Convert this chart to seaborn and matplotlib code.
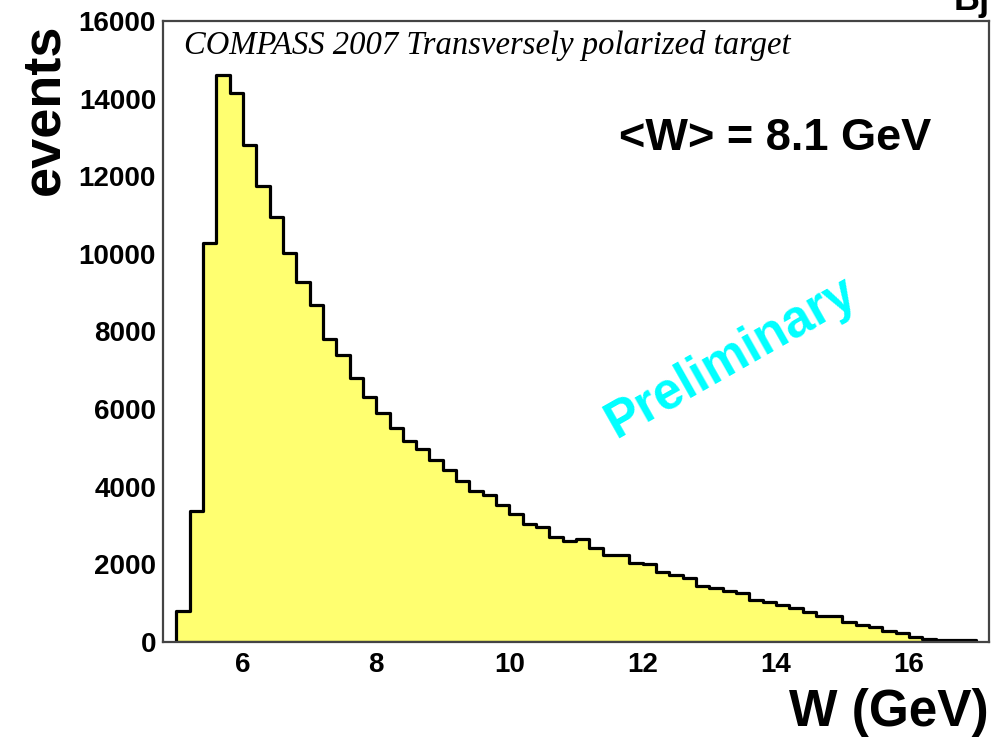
import numpy as np
import pandas as pd
import matplotlib
matplotlib.use("Agg")
import matplotlib.pyplot as plt
import seaborn as sns

# W distribution, 0.2 GeV bins from 5.0 to 17.0 GeV
bin_edges = [round(5.0 + 0.2 * i, 1) for i in range(61)]
counts = [807, 3380, 10280, 14600, 14150, 12810, 11750, 10960, 10020, 9270,
          8690, 7800, 7400, 6810, 6300, 5910, 5520, 5190, 4970, 4690,
          4420, 4160, 3900, 3780, 3540, 3300, 3050, 2960, 2715, 2610,
          2660, 2420, 2250, 2240, 2045, 2000, 1800, 1735, 1650, 1445,
          1400, 1315, 1255, 1080, 1040, 955, 870, 780, 680, 680,
          525, 440, 380, 290, 225, 140, 86, 60, 50, 40]
x_ticks = [6, 8, 10, 12, 14, 16]
y_ticks = [0, 2000, 4000, 6000, 8000, 10000, 12000, 14000, 16000]

centers = [(a + b) / 2 for a, b in zip(bin_edges[:-1], bin_edges[1:])]
df = pd.DataFrame({"W": centers, "events": counts})

sns.set_theme(style="white")
plt.rcParams["font.family"] = ["Liberation Sans", "DejaVu Sans"]
plt.rcParams["text.color"] = "black"
plt.rcParams["xtick.color"] = "#333333"
plt.rcParams["ytick.color"] = "#333333"

fig = plt.figure(figsize=(9.91, 7.39), dpi=100)
ax = fig.add_axes([0.1645, 0.1313, 0.8335, 0.8403])

sns.histplot(data=df, x="W", weights="events", bins=bin_edges,
             element="step", fill=True, facecolor="#ffff70", alpha=1.0,
             edgecolor="black", linewidth=2.3, ax=ax)

ax.set_xlim(4.8, 17.2)
ax.set_ylim(0, 16000)
ax.set_xticks(x_ticks)
ax.set_yticks(y_ticks)
ax.set_xticklabels([str(t) for t in x_ticks], fontsize=20, fontweight="bold")
ax.set_yticklabels([str(t) for t in y_ticks], fontsize=20, fontweight="bold")
ax.tick_params(direction="in", length=8, width=1.3, color="#333333",
               pad=5, labelcolor="black")
ax.tick_params(axis="x", pad=7)
for s in ax.spines.values():
    s.set_color("#444444")
    s.set_linewidth(1.6)

ax.set_xlabel("")
ax.set_ylabel("")
fig.text(0.998, 0.003, "W (GeV)", ha="right", va="bottom",
         fontsize=37, fontweight="bold", color="black")
fig.text(0.045, 0.968, "events", rotation=90, ha="center", va="top",
         fontsize=39, fontweight="bold", color="black")

ax.text(0.025, 0.985, "COMPASS 2007 Transversely polarized target",
        transform=ax.transAxes, ha="left", va="top", fontsize=23.5,
        style="italic", family=["Liberation Serif", "DejaVu Serif"],
        color="black")
ax.text(0.93, 0.81, "<W> = 8.1 GeV", transform=ax.transAxes,
        ha="right", va="center", fontsize=32.5, fontweight="bold",
        color="black")
ax.text(0.688, 0.458, "Preliminary", transform=ax.transAxes,
        ha="center", va="center", fontsize=37, fontweight="bold",
        color="#00ffff", rotation=29.5)

# label running off the top edge, only its lower part shows
fig.text(0.999, 1.0, "Bj", ha="right", va="center", fontsize=26,
         fontweight="bold", color="black")

fig.savefig("out.png", dpi=100)
